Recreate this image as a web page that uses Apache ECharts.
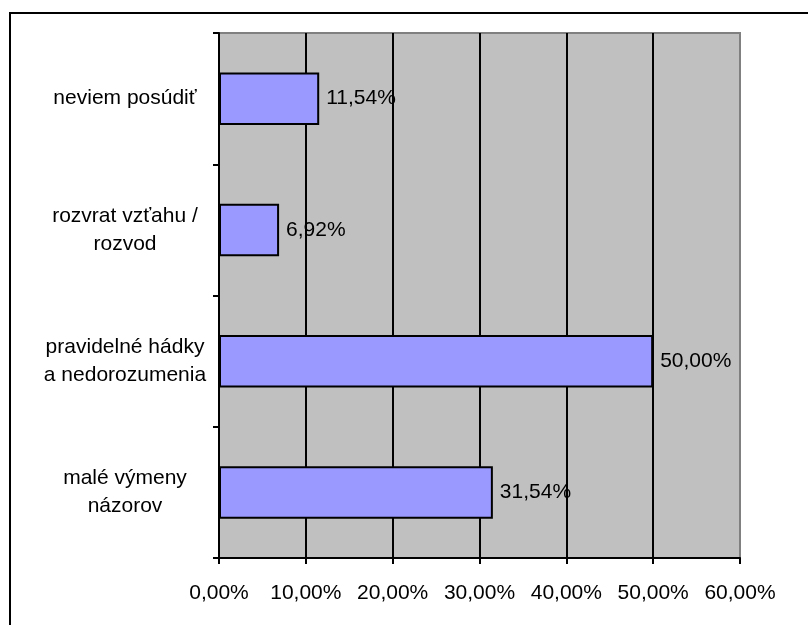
<!DOCTYPE html>
<html>
<head>
<meta charset="utf-8">
<script src="https://cdn.jsdelivr.net/npm/echarts@6/dist/echarts.min.js"></script>
<style>
html,body{margin:0;padding:0;background:#fff;}
#chart{width:808px;height:625px;}
</style>
</head>
<body>
<div id="chart"></div>
<script>
var categories = ['malé výmeny\nnázorov', 'pravidelné hádky\na nedorozumenia', 'rozvrat vzťahu /\nrozvod', 'neviem posúdiť'];
var values = [31.54, 50.00, 6.92, 11.54];
var xTicks = [0, 10, 20, 30, 40, 50, 60];

function fmt(v) { return v.toFixed(2).replace('.', ',') + '%'; }

var FONT = 'Liberation Sans, Arial, sans-serif';
var chart = echarts.init(document.getElementById('chart'), null, {renderer: 'canvas'});
chart.setOption({
  animation: false,
  textStyle: {fontFamily: FONT},
  graphic: [{
    type: 'rect',
    shape: {x: 10, y: 13, width: 900, height: 700},
    style: {fill: 'none', stroke: '#000', lineWidth: 2},
    z: -10
  }],
  grid: {
    left: 219, top: 33, right: 68, bottom: 67,
    show: true, backgroundColor: '#C0C0C0', borderColor: '#808080', borderWidth: 2
  },
  xAxis: {
    type: 'value',
    min: xTicks[0], max: xTicks[xTicks.length - 1], interval: 10,
    axisLine: {show: true, lineStyle: {color: '#000', width: 2}},
    axisTick: {show: true, length: 6, lineStyle: {color: '#000', width: 2}},
    axisLabel: {
      margin: 25, color: '#000', fontSize: 21, fontFamily: FONT,
      formatter: function (v) { return fmt(v); }
    },
    splitLine: {show: true, lineStyle: {color: ['#000', '#000', '#000', '#000', '#000', '#000', '#808080'], width: 2}}
  },
  yAxis: {
    type: 'category',
    data: categories,
    axisLine: {show: true, lineStyle: {color: '#000', width: 2}},
    axisTick: {show: true, length: 6, interval: 0, lineStyle: {color: '#000', width: 2}},
    axisLabel: {
      margin: 94, align: 'center', color: '#000', fontSize: 21, lineHeight: 28, fontFamily: FONT
    },
    splitLine: {show: false}
  },
  series: [{
    type: 'bar',
    data: values,
    barWidth: '40%',
    itemStyle: {color: '#9999FF', borderColor: '#000', borderWidth: 2},
    label: {
      show: true, position: 'right', distance: 7,
      color: '#000', fontSize: 21, fontFamily: FONT,
      formatter: function (p) { return fmt(p.value); }
    }
  }]
});
</script>
</body>
</html>
